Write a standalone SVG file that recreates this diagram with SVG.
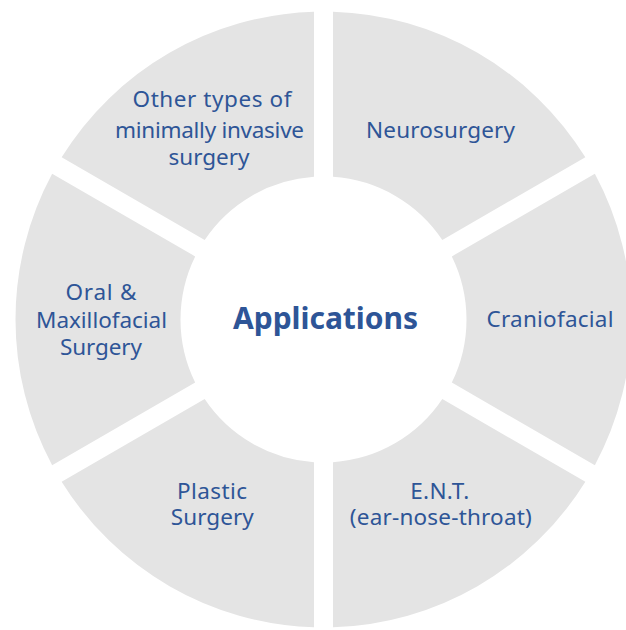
<svg xmlns="http://www.w3.org/2000/svg" width="626" height="630" viewBox="0 0 626 630">
<style>
.seg{fill:#e4e4e4;}
.lbl{font-family:"Noto Sans",Lato,sans-serif;font-size:22.5px;fill:#2e5597;text-anchor:middle;}
.title{font-family:"Noto Sans",Lato,sans-serif;font-size:30px;font-weight:bold;fill:#2e5597;text-anchor:middle;}
</style>
<rect width="626" height="630" fill="#ffffff"/>
<g id="connectors"></g>
<g id="neurosurgery">
<path class="seg" d="M585.36 157.35 A308 308 0 0 0 333.0 11.65 L333.0 176.82 A143 143 0 0 1 442.32 239.93 Z"/>
<text class="lbl" x="440.5" y="138" textLength="149">Neurosurgery</text>
</g>
<g id="other">
<path class="seg" d="M314.0 11.65 A308 308 0 0 0 61.64 157.35 L204.68 239.93 A143 143 0 0 1 314.0 176.82 Z"/>
<text class="lbl" x="212" y="106.5" textLength="159">Other types of</text>
<text class="lbl" x="209.5" y="137.5" textLength="189">minimally invasive</text>
<text class="lbl" x="209" y="165" textLength="81">surgery</text>
</g>
<g id="oral">
<path class="seg" d="M52.14 173.80 A308 308 0 0 0 52.14 465.20 L195.18 382.61 A143 143 0 0 1 195.18 256.39 Z"/>
<text class="lbl" x="101" y="300" textLength="71">Oral &amp;</text>
<text class="lbl" x="101.5" y="328" textLength="131">Maxillofacial</text>
<text class="lbl" x="101" y="354.5" textLength="82">Surgery</text>
</g>
<g id="plastic">
<path class="seg" d="M61.64 481.65 A308 308 0 0 0 314.0 627.35 L314.0 462.18 A143 143 0 0 1 204.68 399.07 Z"/>
<text class="lbl" x="212" y="498.5" textLength="70">Plastic</text>
<text class="lbl" x="212.3" y="525" textLength="83">Surgery</text>
</g>
<g id="ent">
<path class="seg" d="M333.0 627.35 A308 308 0 0 0 585.36 481.65 L442.32 399.07 A143 143 0 0 1 333.0 462.18 Z"/>
<text class="lbl" x="439.7" y="498.5" textLength="59">E.N.T.</text>
<text class="lbl" x="440.8" y="525" textLength="182">(ear-nose-throat)</text>
</g>
<g id="craniofacial">
<path class="seg" d="M594.86 465.20 A308 308 0 0 0 594.86 173.80 L451.82 256.39 A143 143 0 0 1 451.82 382.61 Z"/>
<text class="lbl" x="550" y="327" textLength="127">Craniofacial</text>
</g>
<g id="applications">
<text class="title" x="325.5" y="329" textLength="185">Applications</text>
</g>
</svg>
